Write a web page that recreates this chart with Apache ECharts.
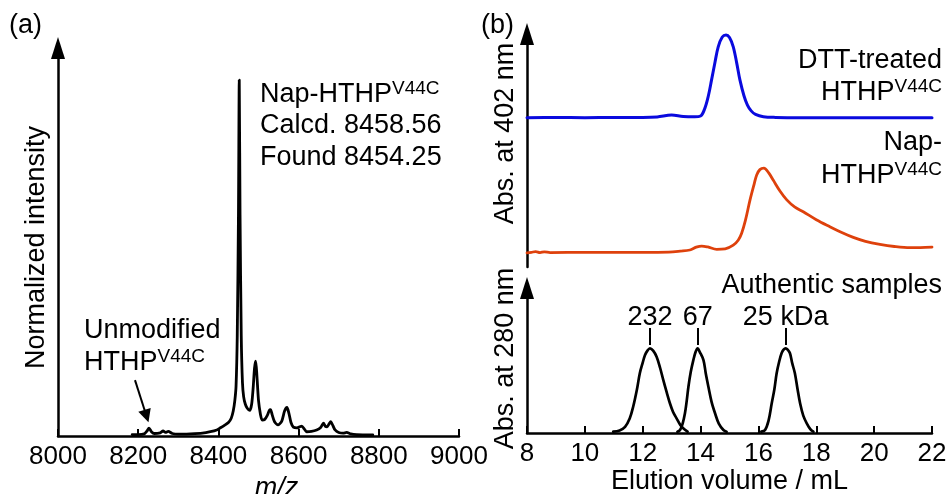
<!DOCTYPE html>
<html>
<head>
<meta charset="utf-8">
<script src="https://cdn.jsdelivr.net/npm/echarts@6/dist/echarts.min.js"></script>
<style>
  html, body { margin: 0; padding: 0; background: #fff; }
  #chart { width: 946px; height: 494px; }
</style>
</head>
<body>
<div id="chart"></div>
<script>
// (a) MALDI-TOF spectrum of Nap-HTHP V44C
const msMz = [8185, 8200, 8215, 8222, 8227, 8233, 8240, 8255, 8262, 8268, 8275, 8285, 8300, 8330, 8360, 8380,
  8396, 8405, 8415, 8425, 8432, 8437, 8441, 8444, 8447, 8450, 8452, 8454, 8457, 8460, 8463, 8467, 8472, 8478,
  8483, 8487, 8490, 8493, 8496, 8500, 8505, 8509, 8515, 8522, 8527, 8530, 8534, 8540, 8549, 8558, 8565, 8571,
  8576, 8581, 8587, 8596, 8603, 8608, 8614, 8620, 8632, 8645, 8655, 8662, 8667, 8671, 8676, 8680, 8686, 8691,
  8700, 8711, 8720, 8730, 8745, 8785];
const msIntensity = [0.4, 0.4, 0.6, 1.4, 2.2, 1.2, 0.7, 0.9, 1.4, 1.0, 1.3, 0.7, 0.5, 0.6, 0.8, 1.2,
  1.7, 2.3, 3.0, 3.8, 5.0, 7.0, 10.0, 14, 28, 62, 100, 62, 28, 15, 11, 9, 7.8, 7.2,
  9, 14, 19, 21, 17, 10, 6, 4.5, 4.6, 5.8, 7.2, 7.4, 6, 4, 3.1, 4.2, 7, 8.0,
  6.3, 3.8, 2.5, 2.3, 2.6, 2.8, 2.0, 1.2, 1.3, 1.7, 2.4, 3.6, 2.7, 2.6, 3.4, 4.0, 2.8, 1.7,
  1.0, 0.8, 1.0, 0.6, 0.4, 0.3];
const mzTicks = { min: 8000, max: 9000, step: 200 };
// arrow pointing at the unmodified protein peak
const unmodifiedArrow = [[8192, 15.7], [8220.7, 5.6]];

// (b) size-exclusion chromatograms, absorbance at 402 nm (offset traces)
const dttVol = [8, 9, 10, 11, 12, 12.5, 13.0, 13.4, 13.8, 14.0, 14.15, 14.27, 14.38, 14.5, 14.61, 14.75, 14.88,
  15.0, 15.13, 15.25, 15.36, 15.5, 15.62, 15.75, 15.9, 16.17, 16.6, 17.5, 19, 22];
const dttAbs = [64.1, 64.2, 64.1, 64.2, 64.2, 64.4, 65.2, 64.6, 64.5, 64.8, 68.2, 73.5, 80.3, 88, 94.5, 98.7, 99.6,
  98.5, 94.5, 87.5, 80.3, 73.5, 69.5, 67, 65.5, 64.5, 64.2, 64.1, 64.1, 64.1];
const napVol = [8, 8.15, 8.3, 8.45, 8.6, 8.8, 10, 12, 12.9, 13.3, 13.63, 13.85, 14.04, 14.25, 14.56, 14.85, 15.13,
  15.3, 15.42, 15.55, 15.71, 15.85, 15.94, 16.05, 16.19, 16.35, 16.51, 16.75, 16.98, 17.25, 17.55, 18.0, 18.47,
  18.9, 19.28, 19.7, 20.2, 20.7, 21.24, 21.6, 22];
const napAbs = [6.1, 6.3, 6.6, 6.2, 6.5, 6.2, 6.3, 6.3, 6.4, 6.8, 7.3, 8.5, 9.0, 8.6, 7.6, 7.8, 9.4,
  11.5, 14.5, 20, 28.8, 35.5, 39.5, 41.8, 42.4, 40.5, 37.3, 32.5, 28.8, 25.8, 23.7, 20.3, 17.3,
  14.7, 12.7, 11.0, 9.7, 8.8, 8.3, 8.3, 8.5];

// authentic molecular-weight standards, absorbance at 280 nm
const std232Vol = [10.98, 11.2, 11.39, 11.55, 11.67, 11.8, 11.9, 12.0, 12.08, 12.17, 12.25, 12.36, 12.48, 12.6,
  12.71, 12.83, 12.94, 13.05, 13.17, 13.3, 13.4, 13.55];
const std232Abs = [0.9, 1.8, 4.3, 10, 18.1, 30, 41.2, 48.5, 53.8, 57, 58.4, 56.8, 52.6, 45,
  36.6, 28, 20.5, 14.5, 10.1, 5.5, 3.2, 0.9];
const std67Vol = [13.2, 13.29, 13.38, 13.46, 13.52, 13.58, 13.66, 13.75, 13.83, 13.9, 13.97, 14.1, 14.18, 14.27,
  14.38, 14.5, 14.63, 14.79, 14.9];
const std67Abs = [0.9, 2.1, 6.5, 13.6, 22, 31.9, 42, 50.3, 56, 58.4, 56, 50.3, 41, 31.9,
  21.5, 13.6, 6.5, 2.1, 0.9];
const std25Vol = [16.1, 16.23, 16.35, 16.46, 16.55, 16.63, 16.72, 16.8, 16.87, 16.94, 17.01, 17.09, 17.17, 17.26,
  17.35, 17.44, 17.55, 17.67, 17.8, 17.9];
const std25Abs = [0.9, 2.1, 8.5, 20.5, 30, 41.2, 49.5, 55, 57.5, 58.4, 57.5, 55, 48, 41.2,
  30.5, 20.5, 12, 6.7, 2.5, 0.9];
const stdNames = ['232', '67', '25 kDa'];
const stdPeakVol = [12.25, 13.9, 16.94];
const stdMarker = [60.7, 72.4];
const volTicks = { min: 8, max: 22, step: 2 };

const FONT = '"Liberation Sans", Arial, Helvetica, sans-serif';
const BLACK = '#000';
const TEXT_SIZE = 27;
const pairs = (xs, ys) => xs.map((x, i) => [x, ys[i]]);

const axisLine = { color: BLACK, width: 2.5 };
const arrowAxis = {
  show: true,
  symbol: ['none', 'triangle'],
  symbolSize: [14, 22],
  lineStyle: axisLine
};
const hiddenY = (gridIndex, max) => ({
  type: 'value', gridIndex, min: 0, max,
  axisLine: arrowAxis,
  axisTick: { show: false },
  axisLabel: { show: false },
  splitLine: { show: false }
});
const tickX = (gridIndex, t, extra) => Object.assign({
  type: 'value', gridIndex, min: t.min, max: t.max, interval: t.step,
  axisLine: { show: true, onZero: false, lineStyle: axisLine },
  axisTick: { show: true, inside: true, length: 7, lineStyle: { color: BLACK, width: 2 } },
  axisLabel: {
    color: BLACK, fontSize: 26, fontFamily: FONT, margin: 8,
    formatter: (v) => String(v)
  },
  splitLine: { show: false },
  nameLocation: 'middle',
  nameTextStyle: { color: BLACK, fontSize: TEXT_SIZE, fontFamily: FONT }
}, extra);

const traceLine = (color, width) => ({ color, width, cap: 'round', join: 'round' });

const supRich = {
  m: { fontSize: TEXT_SIZE, fontFamily: FONT, lineHeight: 31, fill: BLACK },
  s: { fontSize: 19, fontFamily: FONT, lineHeight: 22, verticalAlign: 'top', fill: BLACK }
};
function label(text, x, y, align, rotation) {
  const el = {
    type: 'text', x, y, silent: true,
    style: {
      text, fill: BLACK, font: TEXT_SIZE + 'px ' + FONT,
      align: align || 'left', verticalAlign: 'middle',
      rich: supRich
    }
  };
  if (rotation) el.rotation = rotation;
  return el;
}

const option = {
  animation: false,
  backgroundColor: '#fff',
  textStyle: { fontFamily: FONT },
  grid: [
    { left: 58, top: 48, width: 401, height: 388, outerBoundsMode: 'none' },
    { left: 527, top: 34, width: 405, height: 233, outerBoundsMode: 'none' },
    { left: 527, top: 288, width: 405, height: 145, outerBoundsMode: 'none' }
  ],
  xAxis: [
    tickX(0, mzTicks, {
      name: 'm/z', nameGap: 31,
      nameTextStyle: { color: BLACK, fontSize: TEXT_SIZE, fontFamily: FONT, fontStyle: 'italic', padding: [0, 0, 0, 36] }
    }),
    { type: 'value', gridIndex: 1, min: volTicks.min, max: volTicks.max, show: false },
    tickX(2, volTicks, { name: 'Elution volume / mL', nameGap: 35 })
  ],
  yAxis: [hiddenY(0, 109), hiddenY(1, 100), hiddenY(2, 100)],
  series: [
    {
      type: 'line', xAxisIndex: 0, yAxisIndex: 0, data: pairs(msMz, msIntensity),
      symbol: 'none', smooth: 0.25, lineStyle: traceLine(BLACK, 2.8),
      markLine: {
        silent: true, symbol: ['none', 'triangle'], symbolSize: 13,
        lineStyle: { color: BLACK, width: 2, type: 'solid' },
        label: { show: false },
        data: [[{ coord: unmodifiedArrow[0] }, { coord: unmodifiedArrow[1] }]]
      }
    },
    {
      type: 'line', xAxisIndex: 1, yAxisIndex: 1, data: pairs(dttVol, dttAbs),
      symbol: 'none', smooth: 0.35, lineStyle: traceLine('#0A0ADE', 3)
    },
    {
      type: 'line', xAxisIndex: 1, yAxisIndex: 1, data: pairs(napVol, napAbs),
      symbol: 'none', smooth: 0.35, lineStyle: traceLine('#DE410C', 2.8)
    },
    {
      type: 'line', xAxisIndex: 2, yAxisIndex: 2, data: pairs(std232Vol, std232Abs),
      symbol: 'none', smooth: 0.35, lineStyle: traceLine(BLACK, 2.7)
    },
    {
      type: 'line', xAxisIndex: 2, yAxisIndex: 2, data: pairs(std67Vol, std67Abs),
      symbol: 'none', smooth: 0.35, lineStyle: traceLine(BLACK, 2.7)
    },
    {
      type: 'line', xAxisIndex: 2, yAxisIndex: 2, data: pairs(std25Vol, std25Abs),
      symbol: 'none', smooth: 0.35, lineStyle: traceLine(BLACK, 2.7),
      markLine: {
        silent: true, symbol: ['none', 'none'],
        lineStyle: { color: BLACK, width: 2, type: 'solid' },
        label: {
          show: true, position: 'end', formatter: '{b}', distance: -3,
          color: BLACK, fontSize: TEXT_SIZE, fontFamily: FONT
        },
        data: stdPeakVol.map((v, i) => [
          { coord: [v, stdMarker[0]], name: stdNames[i] },
          { coord: [v, stdMarker[1]] }
        ])
      }
    }
  ],
  graphic: [
    label('(a)', 9, 26),
    label('(b)', 481, 26),
    label('{m|Nap-HTHP}{s|V44C}', 260, 94.5),
    label('Calcd. 8458.56', 260, 126),
    label('Found 8454.25', 260, 157.5),
    label('Unmodified', 84, 331),
    label('{m|HTHP}{s|V44C}', 84, 363),
    label('DTT-treated', 942, 61, 'right'),
    label('{m|HTHP}{s|V44C}', 942, 92.5, 'right'),
    label('Nap-', 942, 142.5, 'right'),
    label('{m|HTHP}{s|V44C}', 942, 176, 'right'),
    label('Authentic samples', 942, 286, 'right'),
    label('Normalized intensity', 37, 247.5, 'center', Math.PI / 2),
    label('Abs. at 402 nm', 506, 133.5, 'center', Math.PI / 2),
    label('Abs. at 280 nm', 506, 358.5, 'center', Math.PI / 2)
  ]
};

const chart = echarts.init(document.getElementById('chart'), null, { renderer: 'canvas' });
chart.setOption(option);
</script>
</body>
</html>
